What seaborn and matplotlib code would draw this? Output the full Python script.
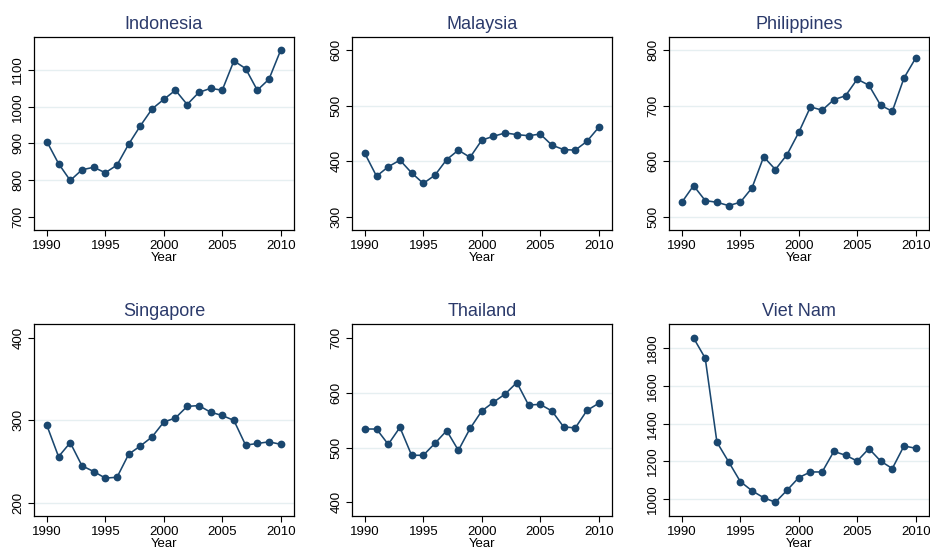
import numpy as np
import pandas as pd
import matplotlib
matplotlib.use("Agg")
import matplotlib.pyplot as plt
import seaborn as sns

years = list(range(1990, 2011))

indonesia = [905, 845, 799, 828, 835, 820, 841, 898, 948, 994, 1020, 1045, 1006,
             1039, 1050, 1045, 1125, 1104, 1045, 1075, 1154]
malaysia = [414, 373, 390, 402, 379, 360, 375, 403, 420, 407, 438, 445, 451,
            448, 446, 449, 429, 421, 420, 436, 461]
philippines = [526, 556, 529, 526, 520, 526, 552, 608, 585, 612, 652, 698, 692,
               711, 718, 748, 737, 701, 690, 750, 786]
singapore = [294, 256, 273, 245, 238, 230, 231, 259, 269, 280, 298, 303, 317,
             318, 310, 306, 300, 270, 272, 274, 271]
thailand = [534, 534, 506, 537, 486, 486, 508, 531, 495, 535, 567, 583, 598,
            619, 578, 579, 567, 538, 536, 568, 581]
vietnam = [np.nan, 1856, 1748, 1302, 1198, 1093, 1044, 1007, 983, 1047, 1114, 1144,
           1144, 1253, 1233, 1202, 1268, 1202, 1162, 1282, 1270]

countries = ["Indonesia", "Malaysia", "Philippines", "Singapore", "Thailand", "Viet Nam"]
series = [indonesia, malaysia, philippines, singapore, thailand, vietnam]
yticks = [[700, 800, 900, 1000, 1100], [300, 400, 500, 600], [500, 600, 700, 800],
          [200, 300, 400], [400, 500, 600, 700], [1000, 1200, 1400, 1600, 1800]]
ylims = [(664, 1190), (276, 624), (476, 824), (184, 417), (375, 726), (910, 1930)]
grids = [[800, 900, 1000, 1100], [400, 500], [500, 600, 700, 800],
         [200, 300], [500, 600], [1000, 1200, 1400, 1600, 1800]]
xticks = [1990, 1995, 2000, 2005, 2010]

sns.set_style("white")
plt.rcParams['font.family'] = ['Liberation Sans', 'DejaVu Sans']

W, H = 930, 550
fig = plt.figure(figsize=(9.3, 5.5), dpi=100)

# pixel boxes: left, top, right, bottom
boxes = [(34, 37, 294, 230), (352, 37, 612, 230), (669, 37, 929, 230),
         (34, 324, 294, 516), (352, 324, 612, 516), (669, 324, 929, 516)]

line_color = "#1a476f"
title_color = "#2b3a6b"

for name, vals, yt, yl, gr, (l, t, r, b) in zip(countries, series, yticks, ylims, grids, boxes):
    ax = fig.add_axes([l / W, 1 - b / H, (r - l) / W, (b - t) / H])
    df = pd.DataFrame({"Year": years, "value": vals}).dropna()
    for g in gr:
        ax.axhline(g, color="#e6eff1", lw=1.0, zorder=0)
    sns.lineplot(data=df, x="Year", y="value", ax=ax, color=line_color, lw=1.15,
                 marker="o", markersize=5.6, markeredgewidth=0, zorder=3)
    ax.set_xlim(1988.9, 2011.14)
    ax.set_ylim(*yl)
    ax.set_xticks(xticks)
    ax.set_yticks(yt)
    ax.set_yticklabels([str(v) for v in yt], rotation=90, va="center")
    ax.tick_params(axis="both", direction="out", length=4, width=0.8, color="black",
                   labelsize=9.5, pad=3, labelcolor="black")
    ax.tick_params(left=True, bottom=True)
    ax.set_ylabel("")
    ax.set_xlabel("Year", fontsize=9.5, labelpad=0, color="black")
    ax.set_title(name, fontsize=13, color=title_color, pad=6)
    for s in ax.spines.values():
        s.set_color("black")
        s.set_linewidth(0.9)

fig.savefig("out.png", dpi=100, facecolor="white")
